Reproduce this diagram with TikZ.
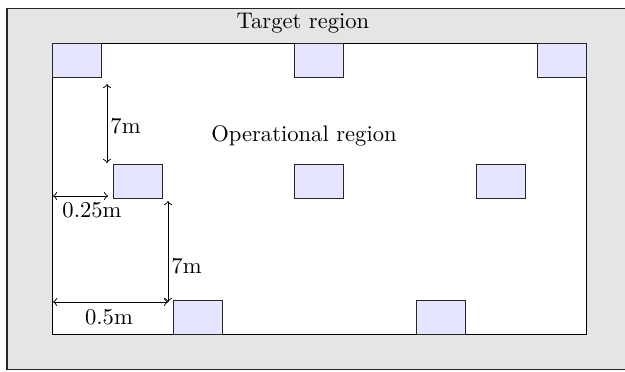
\documentclass[tikz,border=0pt]{standalone}
\begin{document}
\begin{tikzpicture}[x=0.4425pt,y=-0.4425pt,
  cell/.style={draw=black!85, fill=blue!10, minimum width=21.7pt, minimum height=15pt, inner sep=0pt, anchor=north west, line width=0.45pt},
  dim/.style={<->, line width=0.4pt},
  lbl/.style={inner sep=0pt, anchor=base}]
\useasboundingbox (0,0) rectangle (625,371);
\clip (0,0) rectangle (625,371);
\coordinate (tnw) at (7,8);
\coordinate (tse) at (680,369);
\draw[draw=black!85, fill=black!10, line width=0.45pt] (tnw) rectangle (tse);
\node[draw=black, fill=white, line width=0.45pt, minimum width=236.3pt, minimum height=128.8pt, inner sep=0pt, anchor=north west] (oper) at (52,43) {};
\node[lbl] (tlabel) at (303,28) {Target region};
\node[lbl] (olabel) at (304,141) {Operational region};
% sensors
\node[cell] (s1) at (52,43) {};
\node[cell] (s2) at (294,43) {};
\node[cell] (s3) at (537,43) {};
\node[cell] (s4) at (113,164) {};
\node[cell] (s5) at (294,164) {};
\node[cell] (s6) at (476,164) {};
\node[cell] (s7) at (173,300) {};
\node[cell] (s8) at (416,300) {};
% dimension ends
\coordinate (a1) at (107,84);
\coordinate (a2) at (107,163);
\coordinate (b1) at (53,196);
\coordinate (b2) at (108,196);
\coordinate (c1) at (168,201);
\coordinate (c2) at (168,302);
\coordinate (d1) at (53,302);
\coordinate (d2) at (168,302);
\draw[dim] (a1) -- (a2);
\draw[dim] (b1) -- (b2);
\draw[dim] (c1) -- (c2);
\draw[dim] (d1) -- (d2);
\node[lbl, anchor=base west] (l1) at (110,133) {7m};
\node[lbl] (l2) at (92,217) {0.25m};
\node[lbl, anchor=base west] (l3) at (171,273) {7m};
\node[lbl] (l4) at (109,324) {0.5m};
\end{tikzpicture}
\end{document}
